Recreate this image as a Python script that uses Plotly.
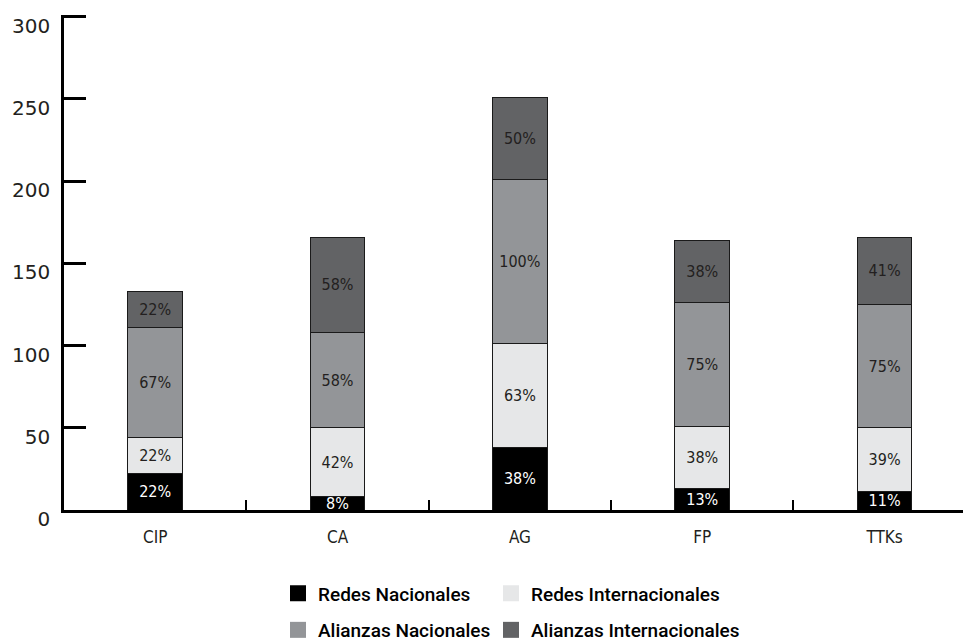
import plotly.graph_objects as go

categories = ["CIP", "CA", "AG", "FP", "TTKs"]
series_names = ["Redes Nacionales", "Redes Internacionales", "Alianzas Nacionales", "Alianzas Internacionales"]
redes_nac = [22, 8, 38, 13, 11]
redes_int = [22, 42, 63, 38, 39]
alianzas_nac = [67, 58, 100, 75, 75]
alianzas_int = [22, 58, 50, 38, 41]
y_ticks = [0, 50, 100, 150, 200, 250, 300]

series_values = [redes_nac, redes_int, alianzas_nac, alianzas_int]
colors = ["#000000", "#e6e7e8", "#939598", "#626365"]
text_colors = ["#ffffff", "#231f20", "#231f20", "#231f20"]

LBL_FONT = "DejaVu Sans Condensed, Liberation Sans Narrow, Roboto, sans-serif"
LEG_FONT = "Roboto, sans-serif"

fig = go.Figure()
for name, vals, c, tc in zip(series_names, series_values, colors, text_colors):
    fig.add_trace(go.Bar(
        x=categories, y=vals, name=name,
        marker=dict(color=c, line=dict(color="#1a1a1a", width=1)),
        width=0.3,
        text=[f"{v}%" for v in vals],
        textposition="inside", insidetextanchor="middle",
        constraintext="none", textangle=0,
        textfont=dict(family=LBL_FONT, size=16, color=tc),
        showlegend=False, hoverinfo="skip",
    ))

# legend entries (square swatches), one legend per entry laid out as a 2x2 grid
legend_ids = ["legend", "legend2", "legend3", "legend4"]
for name, c, lg in zip(series_names, colors, legend_ids):
    fig.add_trace(go.Scatter(
        x=[None], y=[None], mode="markers", name=name,
        marker=dict(symbol="square", size=18, color=c),
        legend=lg, showlegend=True,
    ))

leg_common = dict(
    orientation="h", xref="container", yref="container",
    xanchor="left", yanchor="middle",
    font=dict(family=LEG_FONT, size=19, color="#000000", weight=500),
    bgcolor="rgba(0,0,0,0)",
)
col1_x, col2_x = 278 / 963, 491 / 963
row1_y, row2_y = 1 - 593.5 / 642, 1 - 630 / 642

fig.update_layout(
    width=963, height=642,
    margin=dict(l=64, r=0, t=15, b=132, autoexpand=False),
    paper_bgcolor="white", plot_bgcolor="white",
    barmode="stack",
    xaxis=dict(
        type="category", range=[-0.5, 4.43],
        showline=True, linecolor="black", linewidth=2.5,
        ticks="inside", tickson="boundaries", ticklen=10, tickwidth=2, tickcolor="black",
        tickfont=dict(family=LBL_FONT, size=17, color="#231f20"),
        ticklabelstandoff=10, automargin=False,
        showgrid=False, zeroline=False,
    ),
    yaxis=dict(
        range=[0, 301], tickvals=y_ticks,
        showline=True, linecolor="black", linewidth=2.5,
        ticks="inside", ticklen=22, tickwidth=3, tickcolor="black",
        tickfont=dict(family="DejaVu Sans, sans-serif", size=20, color="#231f20"),
        ticklabelstandoff=7, ticklabelshift=9, automargin=False,
        showgrid=False, zeroline=False,
    ),
    legend=dict(leg_common, x=col1_x, y=row1_y),
    legend2=dict(leg_common, x=col2_x, y=row1_y),
    legend3=dict(leg_common, x=col1_x, y=row2_y),
    legend4=dict(leg_common, x=col2_x, y=row2_y),
)

fig.write_html(
    "out.html",
    config={"displayModeBar": False},
    post_script="document.body.style.margin='0px';",
)
